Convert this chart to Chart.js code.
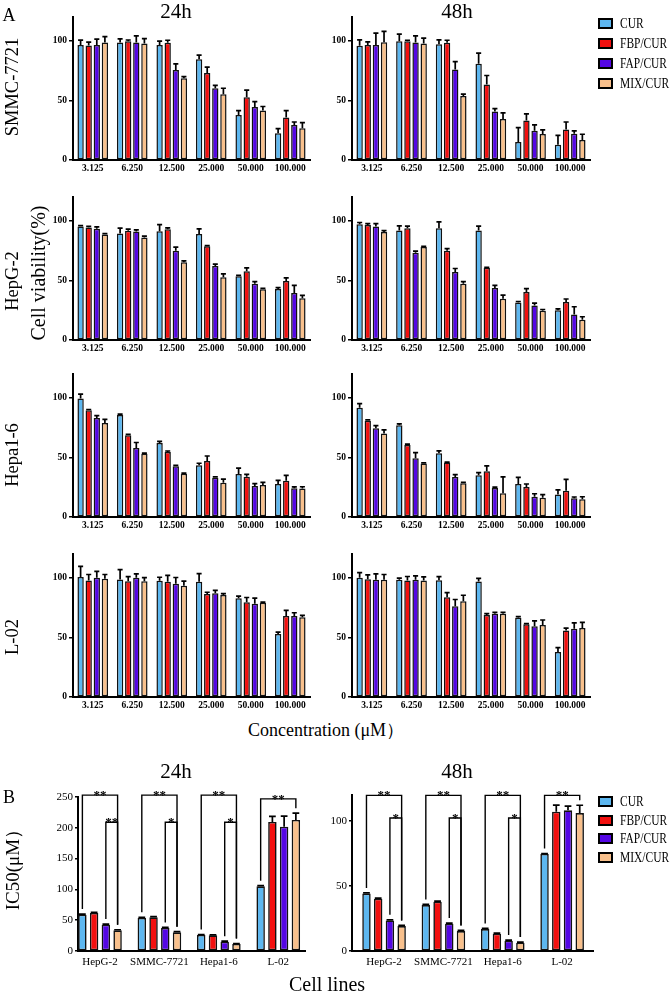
<!DOCTYPE html>
<html><head><meta charset="utf-8">
<script src="https://cdn.jsdelivr.net/npm/chart.js@4.4.0/dist/chart.umd.min.js"></script>
<style>
body{margin:0;background:#fff;}
#fig{position:relative;width:671px;height:992px;overflow:hidden;background:#fff;font-family:"Liberation Serif","Times New Roman",serif;color:#000;}
canvas{position:absolute;}
.t{position:absolute;white-space:nowrap;line-height:1;transform:translate(-50%,-50%);z-index:5;}
.r{transform:translate(-50%,-50%) rotate(-90deg);}
.lg{position:absolute;left:598px;z-index:5;}
.lg div{position:absolute;left:0;height:20px;white-space:nowrap;font-size:14px;line-height:20px;}
.lg span{display:inline-block;width:15px;height:11px;border:2px solid #000;box-sizing:border-box;vertical-align:middle;margin-right:7px;position:relative;top:-1px;}
.lg b{font-weight:normal;display:inline-block;transform:scaleX(0.82);transform-origin:0 50%;}
</style></head>
<body><div id="fig">
<canvas id="a1" width="315" height="171" style="left:0;top:9px"></canvas>
<canvas id="a2" width="316" height="171" style="left:279px;top:9px"></canvas>
<canvas id="a3" width="315" height="171" style="left:0;top:189px"></canvas>
<canvas id="a4" width="316" height="171" style="left:279px;top:189px"></canvas>
<canvas id="a5" width="315" height="171" style="left:0;top:366px"></canvas>
<canvas id="a6" width="316" height="171" style="left:279px;top:366px"></canvas>
<canvas id="a7" width="315" height="171" style="left:0;top:546px"></canvas>
<canvas id="a8" width="316" height="171" style="left:279px;top:546px"></canvas>
<canvas id="b1" width="310" height="188" style="left:0;top:781px"></canvas>
<canvas id="b2" width="306" height="190" style="left:292px;top:779px"></canvas>

<div class="t" style="left:9px;top:15px;font-size:18px">A</div>
<div class="t" style="left:176px;top:11px;font-size:21px">24h</div>
<div class="t" style="left:457px;top:11px;font-size:21px">48h</div>
<div class="t r" style="left:12px;top:87px;font-size:18.5px">SMMC-7721</div>
<div class="t r" style="left:12px;top:281px;font-size:18.5px">HepG-2</div>
<div class="t r" style="left:38px;top:273px;font-size:20px">Cell viability(%)</div>
<div class="t r" style="left:12px;top:455px;font-size:18.5px">Hepa1-6</div>
<div class="t r" style="left:12px;top:637px;font-size:18.5px">L-02</div>
<div class="t" style="left:326px;top:730px;font-size:18px">Concentration (μM）</div>
<div class="t" style="left:176px;top:771px;font-size:21px">24h</div>
<div class="t" style="left:457px;top:771px;font-size:21px">48h</div>
<div class="t" style="left:9px;top:797px;font-size:18px">B</div>
<div class="t r" style="left:12px;top:865px;font-size:19px">IC50(μM）</div>
<div class="t" style="left:327px;top:984px;font-size:20px">Cell lines</div>
<div class="lg" id="lgA" style="top:14px"></div>
<div class="lg" id="lgB" style="top:792px"></div>
</div>
<script>
const FONT = '"Liberation Serif","Times New Roman",serif';
const concLabels = ['3.125','6.250','12.500','25.000','50.000','100.000'];
const cellLines = ['HepG-2','SMMC-7721','Hepa1-6','L-02'];
const seriesNames = ['CUR','FBP/CUR','FAP/CUR','MIX/CUR'];
const seriesColors = ['#5DB7F0','#F2100F','#5406E4','#F8C08C'];
const yTicksA = [0,50,100];
const yTicksB24 = [0,50,100,150,200,250];
const yTicksB48 = [0,50,100];

// Cell viability (%) — rows: CUR, FBP/CUR, FAP/CUR, MIX/CUR ; columns: concentrations
const smmc24Mean = [[96.6,98.6,96.4,84.6,37.8,22.4],[96,99.7,98.3,73.1,52.7,35.6],[96.4,98.6,75.6,60.2,44.5,29.4],[98.6,97.8,68.6,55.2,41.5,26.6]];
const smmc24Err  = [[4,3,3.3,3.4,3.6,3.9],[3,1,2.2,4.8,5.9,5.9],[5,5.5,5,2.5,4.5,2.5],[5,4,1.4,5,3.4,4.8]];
const smmc48Mean = [[95.8,99.7,97.2,80.7,15.1,12.9],[96.4,99.7,98.3,63.3,33.1,25.5],[96.4,98.6,75.9,40.6,24.6,22.1],[98.9,97.8,53.8,34.5,21.8,16.8]];
const smmc48Err  = [[5,6,3.6,9,12,7.8],[2.7,0.8,2.2,7.6,5.6,6.4],[10,5.6,6.7,2.5,4.8,2.3],[9,4.5,1.4,5,3.4,4.8]];
const hepg24Mean = [[95.2,89.4,91.3,89,53.5,42.9],[94.4,91.6,93,78.7,57.7,49.6],[93.3,91,75,62,47.3,39.5],[88.5,86,65.3,52.7,42.6,35]];
const hepg24Err  = [[0.8,4.5,5.6,4.2,0.8,1.1],[1,1.4,1.1,0.5,2.8,2.5],[1.7,1.4,3,1.7,1.7,6.4],[0.8,1.1,1.1,2.8,0.8,2.5]];
const hepg48Mean = [[97.2,91.8,93.8,91.8,31.5,25],[96.6,93.8,75,60.6,40.3,31.8],[95.2,73.2,57,43.7,29,21.4],[90.7,78,47.3,34.6,24.5,17]];
const hepg48Err  = [[1.4,4,5.4,3.7,0.8,1.1],[1.1,1.7,1.7,0.3,2.8,2.6],[2.5,1.4,3,2.2,2,6.5],[1.1,0.6,1.7,3.1,1.1,2.5]];
const hepa24Mean = [[99.4,85.6,62,43.4,36,27.6],[89.6,68.5,54.6,47,33.8,30.4],[83,58,42.5,33,26,24.2],[78.9,53,36.3,28.7,26.8,24]];
const hepa24Err  = [[3.7,0.8,1.4,1.7,5,3.1],[0.6,0.8,0.8,4.2,2,4.5],[2,4.5,0.8,0.6,2,1.1],[3.1,0.6,0.6,3.1,2.2,1.4]];
const hepa48Mean = [[91.6,77,53.5,35,27.7,18.8],[80.7,60.5,45.7,38.4,25.2,22.1],[74.5,49.3,33.6,24.4,17,15.7],[70,44.8,28.3,19.9,16.2,14.8]];
const hepa48Err  = [[3.6,1.1,2,2.2,5.6,3.9],[0.8,0.6,0.3,4.5,2.5,9.5],[2.2,4.8,2,0.6,2.5,1.1],[3.1,0.6,0.8,13.7,2.5,2.2]];
const l0224Mean  = [[100.8,98.6,97.5,96.7,82.9,52.8],[97.8,97.2,96.7,86.5,79.6,68],[100,100,95,87,78.2,68],[99.2,97.2,93.4,85.6,79,66.9]];
const l0224Err   = [[8.8,8.3,3,6.9,1.7,1.7],[5,3.8,5.3,1.4,3.9,4.7],[5.5,3.3,5.3,2.5,4.7,2.7],[3.6,3,3.8,1.1,0.6,1.6]];
const l0248Mean  = [[100,98.3,98,97,66.6,37.8],[98.9,97.8,83.7,68.8,61,55.8],[98.3,98.3,76.2,69.9,59.4,57.2],[98.3,97.8,80.4,69.9,60.5,58]];
const l0248Err   = [[4.4,1.4,3,2.5,0.8,3.6],[3.6,3.3,3.9,1.1,0.6,2],[5,3.4,5.6,1.1,4.4,5],[4.5,3,5,1.1,4.1,4.7]];

// IC50 (μM) — rows: series ; columns: cell lines
const ic24Mean = [[59,53.6,26,105],[61.7,54.7,25.4,209.4],[42.7,37.3,15.2,201.8],[33.5,30.3,11.4,212.7]];
const ic24Err  = [[1,1,0.8,1],[1,1,0.8,9],[1,1,0.8,17],[1,1,0.8,11]];
const ic48Mean = [[44.2,35.3,16.9,74.7],[40.2,37.9,13.3,107.2],[23.5,21,7.9,108.2],[19.2,15.3,6.4,106.1]];
const ic48Err  = [[0.5,0.5,0.5,0.3],[0.5,0.5,0.5,5],[0.5,0.5,0.5,3.3],[0.5,0.5,0.5,6]];

// significance brackets: [cell line, from series, to series, level, label]
const sig24 = [[0,0,3,253,'**'],[0,2,3,209,'**'],[1,0,3,253,'**'],[1,2,3,209,'*'],[2,0,3,253,'**'],[2,2,3,209,'*'],[3,0,3,247,'**']];
const sig48 = [[0,0,3,119.7,'**'],[0,2,3,102.3,'*'],[1,0,3,119.7,'**'],[1,2,3,102.3,'*'],[2,0,3,119.7,'**'],[2,2,3,102.3,'*'],[3,0,3,119.7,'**']];

const errorBars = {
  id:'errorBars',
  afterDatasetsDraw(chart){
    const ctx = chart.ctx, ys = chart.scales.y;
    ctx.save(); ctx.strokeStyle = '#000'; ctx.lineWidth = 1.7;
    chart.data.datasets.forEach((ds, di) => {
      const meta = chart.getDatasetMeta(di);
      meta.data.forEach((bar, i) => {
        const raw = ds.data[i];
        const v = typeof raw === 'object' ? raw.y : raw;
        const e = ds.errs[i];
        const top = ys.getPixelForValue(v + e);
        const w = bar.width * 0.8;
        ctx.beginPath();
        ctx.moveTo(bar.x, bar.y); ctx.lineTo(bar.x, top);
        ctx.moveTo(bar.x - w/2, top); ctx.lineTo(bar.x + w/2, top);
        ctx.stroke();
      });
    });
    ctx.restore();
  }
};

function bracketPlugin(items, means, errs){
  return {id:'brackets', afterDatasetsDraw(chart){
    const ctx = chart.ctx, ys = chart.scales.y;
    ctx.save(); ctx.strokeStyle = '#000'; ctx.lineWidth = 1.4; ctx.fillStyle = '#000';
    ctx.font = 'bold 13px ' + FONT; ctx.textAlign = 'center'; ctx.textBaseline = 'alphabetic';
    items.forEach(([g, a, b, lvl, txt]) => {
      const pa = chart.getDatasetMeta(a).data[g], pb = chart.getDatasetMeta(b).data[g];
      const yl = ys.getPixelForValue(lvl);
      const ya = ys.getPixelForValue(means[a][g] + errs[a][g]) - 5;
      const yb = ys.getPixelForValue(means[b][g] + errs[b][g]) - 5;
      ctx.beginPath(); ctx.moveTo(pa.x, ya); ctx.lineTo(pa.x, yl); ctx.lineTo(pb.x, yl); ctx.lineTo(pb.x, yb); ctx.stroke();
      ctx.fillText(txt, (pa.x + pb.x) / 2, yl + 4);
    });
    ctx.restore();
  }};
}

function axisCommon(size, weight){
  return {color:'#000', font:{family:FONT, size:size, weight:weight}};
}

function panelA(id, means, errs){
  return new Chart(document.getElementById(id), {
    type:'bar',
    data:{labels:concLabels, datasets:seriesNames.map((n,i)=>({label:n, data:means[i], errs:errs[i],
      backgroundColor:seriesColors[i], borderColor:'#111', borderWidth:1.5, borderSkipped:false,
      categoryPercentage:0.82, barPercentage:0.78}))},
    options:{responsive:false, animation:false, devicePixelRatio:1,
      layout:{padding:{top:8,right:5,left:0,bottom:0}},
      plugins:{legend:{display:false}, tooltip:{enabled:false}},
      scales:{
        x:{grid:{display:false, drawTicks:false}, border:{display:true,color:'#000',width:2},
           ticks:Object.assign(axisCommon(9.5,'bold'),{padding:3,maxRotation:0,autoSkip:false}),
           afterFit:s=>{s.height=20;}},
        y:{min:0,max:120, afterBuildTicks:s=>{s.ticks=yTicksA.map(v=>({value:v}));},
           grid:{drawOnChartArea:false,drawTicks:true,tickLength:4,color:'#000',lineWidth:1.5},
           border:{display:true,color:'#000',width:2},
           ticks:Object.assign(axisCommon(9.5,'bold'),{padding:2}),
           afterFit:s=>{s.width=73;}}
      }
    },
    plugins:[errorBars]
  });
}

function panelB(id, means, errs, yMax, yTicks, yWidth, xMin, xMax, sig){
  return new Chart(document.getElementById(id), {
    type:'bar',
    data:{datasets:seriesNames.map((n,i)=>({label:n, data:means[i].map((v,j)=>({x:j,y:v})), errs:errs[i],
      backgroundColor:seriesColors[i], borderColor:'#111', borderWidth:1.6, borderSkipped:false,
      categoryPercentage:0.79, barPercentage:0.72}))},
    options:{responsive:false, animation:false, devicePixelRatio:1,
      layout:{padding:{top:16,right:5,left:0,bottom:0}},
      plugins:{legend:{display:false}, tooltip:{enabled:false}},
      scales:{
        x:{type:'linear', min:xMin, max:xMax, offset:false,
           afterBuildTicks:s=>{s.ticks=cellLines.map((c,j)=>({value:j}));},
           grid:{display:false, drawTicks:false}, border:{display:true,color:'#000',width:2},
           ticks:Object.assign(axisCommon(11,'normal'),{padding:5,maxRotation:0,autoSkip:false,callback:v=>cellLines[v]}),
           afterFit:s=>{s.height=18;}},
        y:{min:0,max:yMax, afterBuildTicks:s=>{s.ticks=yTicks.map(v=>({value:v}));},
           grid:{drawOnChartArea:false,drawTicks:true,tickLength:3,color:'#000',lineWidth:1.5},
           border:{display:true,color:'#000',width:2},
           ticks:Object.assign(axisCommon(11,'normal'),{padding:2}),
           afterFit:s=>{s.width=yWidth;}}
      }
    },
    plugins:[errorBars, bracketPlugin(sig, means, errs)]
  });
}

panelA('a1', smmc24Mean, smmc24Err);
panelA('a2', smmc48Mean, smmc48Err);
panelA('a3', hepg24Mean, hepg24Err);
panelA('a4', hepg48Mean, hepg48Err);
panelA('a5', hepa24Mean, hepa24Err);
panelA('a6', hepa48Mean, hepa48Err);
panelA('a7', l0224Mean, l0224Err);
panelA('a8', l0248Mean, l0248Err);
panelB('b1', ic24Mean, ic24Err, 250, yTicksB24, 78, -0.37, 3.45, sig24);
panelB('b2', ic48Mean, ic48Err, 120, yTicksB48, 60, -0.54, 3.52, sig48);

function legend(el, step){
  seriesNames.forEach((n,i)=>{
    const d = document.createElement('div');
    d.style.top = (i*step) + 'px';
    d.innerHTML = '<span style="background:'+seriesColors[i]+'"></span><b>' + n + '</b>';
    el.appendChild(d);
  });
}
legend(document.getElementById('lgA'), 20);
legend(document.getElementById('lgB'), 18.5);
</script>
</body></html>
